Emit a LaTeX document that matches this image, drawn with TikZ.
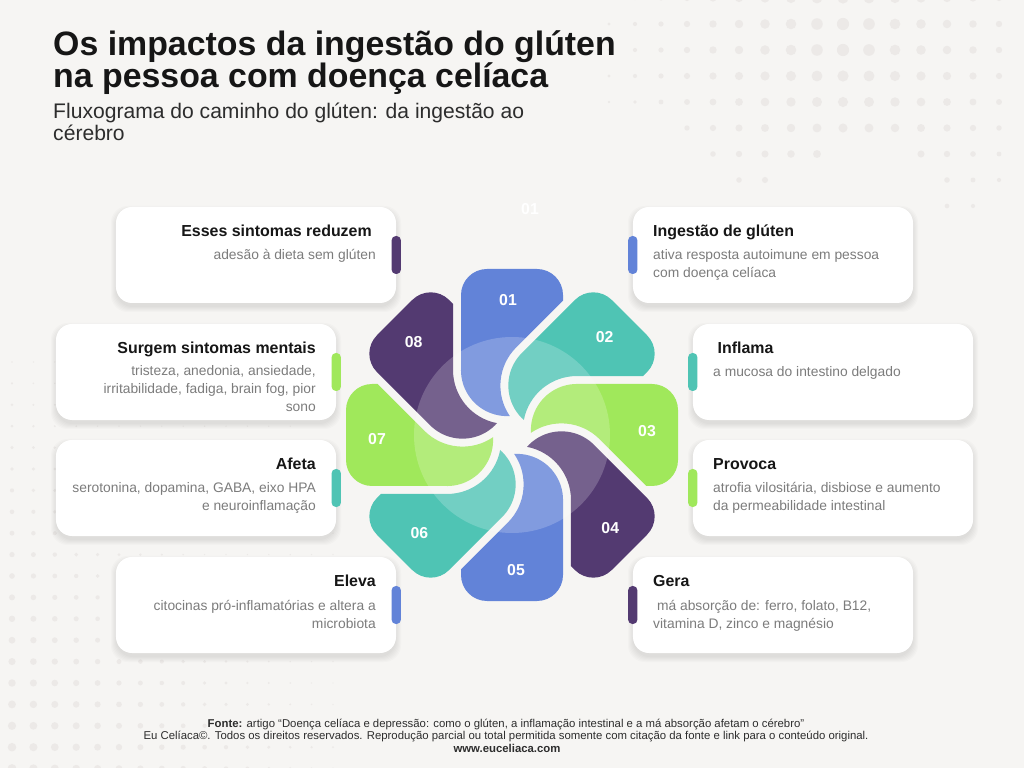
\documentclass[tikz,border=0pt]{standalone}
\usepackage{fontspec}
\setmainfont{Liberation Sans}
\definecolor{bgc}{HTML}{F6F5F3}
\definecolor{dotc}{HTML}{ECE9E7}
\definecolor{cblue}{HTML}{6283D8}
\definecolor{cteal}{HTML}{4FC4B4}
\definecolor{cgreen}{HTML}{A0E85B}
\definecolor{cpurple}{HTML}{533A71}
\definecolor{ink}{HTML}{161616}
\definecolor{soft}{HTML}{7C7C7C}

\begin{document}
\begin{tikzpicture}[x=0.03cm, y=-0.03cm,
	card/.style={fill=white, rounded corners=0.48cm, minimum width=8.4cm, minimum height=2.88cm, inner sep=0},
	bar/.style={rounded corners=0.13cm, minimum width=0.28cm, minimum height=1.14cm, inner sep=0},
	big/.style={inner sep=0, anchor=base west, text=ink, font=\fontsize{28.9}{30}\selectfont\bfseries},
	lead/.style={inner sep=0, anchor=base west, text=ink!90, font=\fontsize{18}{20}\selectfont},
	hd/.style={inner sep=0, text=ink, font=\fontsize{13.6}{16}\selectfont\bfseries},
	tx/.style={inner sep=0, text=soft, font=\fontsize{11.8}{15}\selectfont},
	num/.style={text=white, font=\fontsize{13.5}{16}\selectfont\bfseries},
	ft/.style={inner sep=0, anchor=base, text=ink!90, font=\fontsize{9.7}{11}\selectfont}]
	\useasboundingbox (0,0) rectangle (1024,768);
	\fill[bgc] (0,0) rectangle (1024,768);

	% dot patterns
	\foreach \row/\a/\b in {-2/0/15, 24/0/15, 50/0/15, 76/0/15, 102/0/15, 128/3/15, 154/4/8, 154/12/15, 180/5/6, 180/13/15, 206/13/14}
		\foreach \col in {\a,...,\b}{
			\pgfmathsetmacro\rad{max(6.4-0.0205*veclen(609+26*\col-844,\row-37),1)}
			\fill[dotc] ({609+26*\col},\row) circle (\rad);
		}
	\foreach \row in {0,...,19}
		\foreach \col in {0,...,15}{
			\pgfmathsetmacro\rad{4.6-0.0102*(12+21.4*\col)-0.0086*(768-(362+21.4*\row))}
			\ifdim\rad pt>-1.4pt
				\fill[dotc] ({12+21.4*\col},{362+21.4*\row}) circle ({max(\rad,0.7)});
			\fi
		}

	% cards
	\foreach \nm/\xa/\ya/\bc/\sd in {c1/633/207/cblue/west, c2/693/324/cteal/west, c3/693/440/cgreen/west, c4/633/557/cpurple/west, c5/116/557/cblue/east, c6/56/440/cteal/east, c7/56/324/cgreen/east, c8/116/207/cpurple/east}{
		\foreach \k in {0,...,5}
			\fill[black, opacity=.014, rounded corners=0.5cm] ({\xa-\k},{\ya+4-\k}) rectangle ({\xa+280+\k},{\ya+100+\k});
		\node[card] (\nm) at ({\xa+140},{\ya+48}) {};
		\node[bar, fill=\bc] (\nm b) at (\nm.\sd) {};
	}

	% pinwheel
	\foreach \p/\pc in {1/cblue, 2/cteal, 3/cgreen, 4/cpurple, 5/cblue, 6/cteal, 7/cgreen, 8/cpurple}{
		\begin{scope}[shift={(512,435)}, x=0.03cm, y=0.03cm, rotate={-45*(\p-1)}]
			\fill[\pc] (-51,65) -- (-51,140) arc[start angle=180, end angle=90, radius=26] -- (25,166)
				arc[start angle=90, end angle=0, radius=26] -- (51,134.4) -- (4.2,87.6)
				arc[start angle=135, end angle=214.3, radius=54] arc[start angle=273.5, end angle=180, radius=46] -- cycle;
			\node[num] (n\p) at (-4,135) {0\p};
		\end{scope}
	}
	\fill[white, fill opacity=.2] (512,435) circle (98);
	\node[num] (ghost) at (530,209) {01};

	% heading
	\node[big] (title1) at (53,56) {Os impactos da ingestão do glúten};
	\node[big] (title2) at (53,88) {na pessoa com doença celíaca};
	\node[lead] (lead1) at (53,119) {Fluxograma do caminho do glúten: da ingestão ao};
	\node[lead] (lead2) at (53,141) {cérebro};

	% right side texts
	\node[hd, anchor=base west] (h1) at (653,237) {Ingestão de glúten};
	\node[tx, anchor=base west] (s1a) at (653,260) {ativa resposta autoimune em pessoa};
	\node[tx, anchor=base west] (s1b) at (653,278) {com doença celíaca};
	\node[hd, anchor=base west] (h2) at (713,354) {\ Inflama};
	\node[tx, anchor=base west] (s2a) at (713,377) {a mucosa do intestino delgado};
	\node[hd, anchor=base west] (h3) at (713,470) {Provoca};
	\node[tx, anchor=base west] (s3a) at (713,493) {atrofia vilositária, disbiose e aumento};
	\node[tx, anchor=base west] (s3b) at (713,511) {da permeabilidade intestinal};
	\node[hd, anchor=base west] (h4) at (653,587) {Gera};
	\node[tx, anchor=base west] (s4a) at (653,610) {\ má absorção de: ferro, folato, B12,};
	\node[tx, anchor=base west] (s4b) at (653,628) {vitamina D, zinco e magnésio};

	% left side texts
	\node[hd, anchor=base east] (h5) at (376,587) {Eleva};
	\node[tx, anchor=base east] (s5a) at (376,610) {citocinas pró-inflamatórias e altera a};
	\node[tx, anchor=base east] (s5b) at (376,628) {microbiota};
	\node[hd, anchor=base east] (h6) at (316,470) {Afeta};
	\node[tx, anchor=base east] (s6a) at (316,493) {serotonina, dopamina, GABA, eixo HPA};
	\node[tx, anchor=base east] (s6b) at (316,511) {e neuroinflamação};
	\node[hd, anchor=base east] (h7) at (316,354) {Surgem sintomas mentais};
	\node[tx, anchor=base east] (s7a) at (316,376) {tristeza, anedonia, ansiedade,};
	\node[tx, anchor=base east] (s7b) at (316,394) {irritabilidade, fadiga, brain fog, pior};
	\node[tx, anchor=base east] (s7c) at (316,412) {sono};
	\node[hd, anchor=base east] (h8) at (372,237) {Esses sintomas reduzem};
	\node[tx, anchor=base east] (s8a) at (376,260) {adesão à dieta sem glúten};

	% footer
	\node[ft] (foot1) at (506,727) {\textbf{Fonte:} artigo “Doença celíaca e depressão: como o glúten, a inflamação intestinal e a má absorção afetam o cérebro”};
	\node[ft] (foot2) at (506,739) {Eu Celíaca©. Todos os direitos reservados. Reprodução parcial ou total permitida somente com citação da fonte e link para o conteúdo original.};
	\node[ft] (foot3) at (507,752) {\textbf{www.euceliaca.com}};
\end{tikzpicture}
\end{document}
